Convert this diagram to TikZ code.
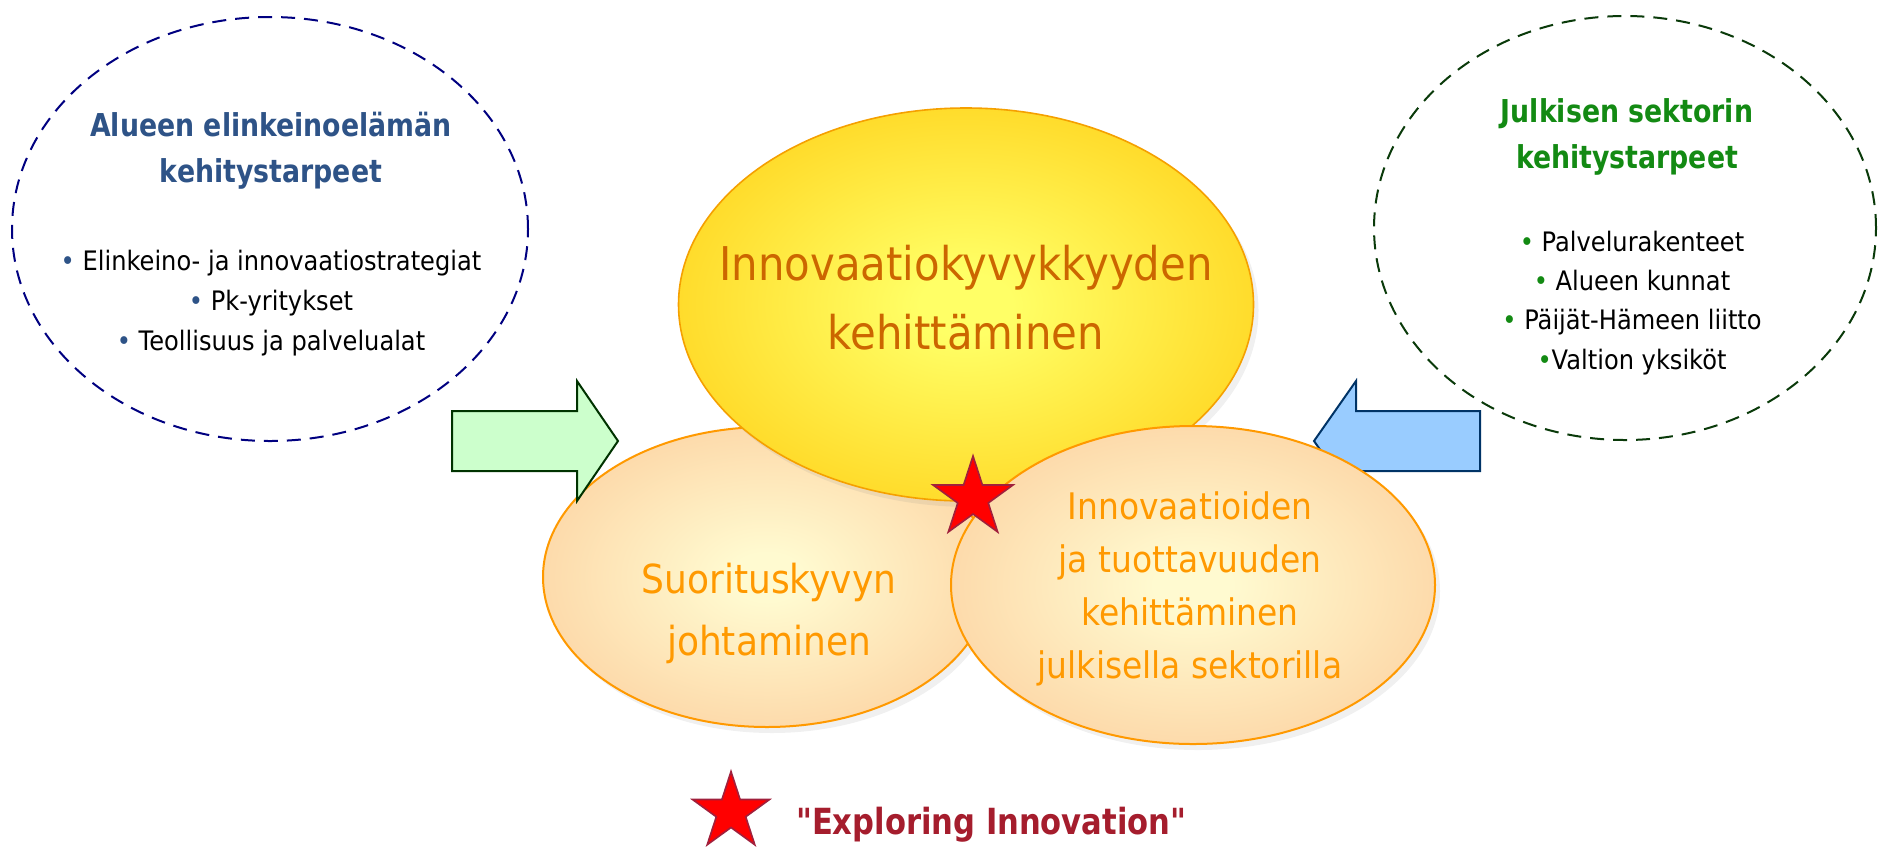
\documentclass[tikz,border=0pt]{standalone}
\usepackage{fontspec}
\setmainfont[FakeStretch=0.9]{DejaVu Sans}
\newfontfamily\needfont[FakeStretch=0.85]{DejaVu Sans}
\usetikzlibrary{shapes.geometric,shadows}

\definecolor{sunin}{HTML}{FFFF66}
\definecolor{sunout}{HTML}{FFC80A}
\definecolor{sunline}{HTML}{F5A000}
\definecolor{sunink}{HTML}{CC6600}
\definecolor{peachin}{HTML}{FFFAD0}
\definecolor{peachout}{HTML}{FCCA98}
\definecolor{peachline}{HTML}{FF9900}
\definecolor{bizblue}{HTML}{2E5387}
\definecolor{bizline}{HTML}{000080}
\definecolor{pubgreen}{HTML}{138A13}
\definecolor{publine}{HTML}{0A3A0A}
\definecolor{mintfill}{HTML}{CCFFCC}
\definecolor{mintline}{HTML}{003300}
\definecolor{skyfill}{HTML}{99CCFF}
\definecolor{skyline}{HTML}{003366}
\definecolor{starline}{HTML}{A0203C}
\definecolor{mottored}{HTML}{A51D2D}

\pgfdeclareradialshading{sunglow}{\pgfpoint{0bp}{0bp}}{color(0bp)=(sunin); color(4bp)=(sunin); color(37bp)=(sunout); color(50bp)=(sunout)}
\pgfdeclareradialshading{peachglow}{\pgfpoint{0bp}{0bp}}{color(0bp)=(peachin); color(4bp)=(peachin); color(36bp)=(peachout); color(50bp)=(peachout)}

\tikzset{
  need/.style={ellipse, inner sep=0pt, line width=1pt, dash pattern=on 7pt off 4.5pt},
  goal/.style={ellipse, inner sep=0pt, line width=1pt, draw=peachline, shade, shading=peachglow,
    drop shadow={shadow xshift=2.5pt, shadow yshift=-3pt, opacity=0.12}},
  blockarrow/.style={line width=1pt, line join=miter},
  redstar/.style={star, star points=5, star point ratio=2.618, inner sep=0pt, fill=red, draw=starline, line width=0.8pt},
  heading/.style={align=center, anchor=base, font=\needfont\bfseries\fontsize{15.75}{23}\selectfont},
  bullets/.style={align=center, anchor=base, font=\fontsize{13.4}{20}\selectfont},
}

\begin{document}
\begin{tikzpicture}[x=0.5pt,y=-0.5pt]
\useasboundingbox (0,0) rectangle (1878,847);

% development needs
\node[need, draw=bizline, minimum width=258pt, minimum height=212pt] (bizneed) at (270,229) {};
\node[need, draw=publine, minimum width=251pt, minimum height=212pt] (pubneed) at (1625,228) {};

% block arrows
\draw[blockarrow, fill=skyfill, draw=skyline] (1480,411) -- (1356,411) -- (1356,381) -- (1314,441)
  -- (1356,501) -- (1356,471) -- (1480,471) -- cycle;

\node[goal, minimum width=224pt, minimum height=150pt] (lead) at (767,577) {};

\draw[blockarrow, fill=mintfill, draw=mintline] (452,411) -- (577,411) -- (577,381) -- (618,441)
  -- (577,501) -- (577,471) -- (452,471) -- cycle;

\node[goal, draw=sunline, line width=0.8pt, shading=sunglow, minimum width=287.5pt, minimum height=196.5pt] (core) at (966,304.5) {};
\node[goal, minimum width=242pt, minimum height=159pt] (public) at (1193,585) {};

% stars
\node[redstar, minimum size=42pt] (spark) at (973,498) {};
\node[redstar, minimum size=40.5pt] (keystar) at (731,812) {};

% texts (base = last line)
\node[heading, text=bizblue, font=\needfont\bfseries\fontsize{15.75}{22.75}\selectfont] (biztitle) at (271,182) {Alueen elinkeinoelämän\\kehitystarpeet};
\node[bullets] (bizlist) at (271,350) {{\color{bizblue}\textbullet} Elinkeino- ja innovaatiostrategiat\\
  {\color{bizblue}\textbullet} Pk-yritykset\\
  {\color{bizblue}\textbullet} Teollisuus ja palvelualat};

\node[heading, text=pubgreen] (pubtitle) at (1627,168) {Julkisen sektorin\\kehitystarpeet};
\node[bullets, font=\fontsize{13.4}{19.65}\selectfont] (publist) at (1632,369) {{\color{pubgreen}\textbullet} Palvelurakenteet\\
  {\color{pubgreen}\textbullet} Alueen kunnat\\
  {\color{pubgreen}\textbullet} Päijät-Hämeen liitto\\
  {\color{pubgreen}\textbullet}Valtion yksiköt};

\node[align=center, anchor=base, text=sunink, font=\fontsize{23.25}{34.5}\selectfont] (coretext) at (966,349) {Innovaatiokyvykkyyden\\kehittäminen};
\node[align=center, anchor=base, text=peachline, font=\fontsize{20}{31}\selectfont] (leadtext) at (769,655) {Suorituskyvyn\\johtaminen};
\node[align=center, anchor=base, text=peachline, font=\fontsize{18.3}{26.5}\selectfont] (publictext) at (1190,678) {Innovaatioiden\\ja tuottavuuden\\kehittäminen\\julkisella sektorilla};

\node[anchor=base west, text=mottored, font=\needfont\bfseries\fontsize{18}{22}\selectfont] (motto) at (789,834) {"Exploring Innovation"};

\end{tikzpicture}
\end{document}
